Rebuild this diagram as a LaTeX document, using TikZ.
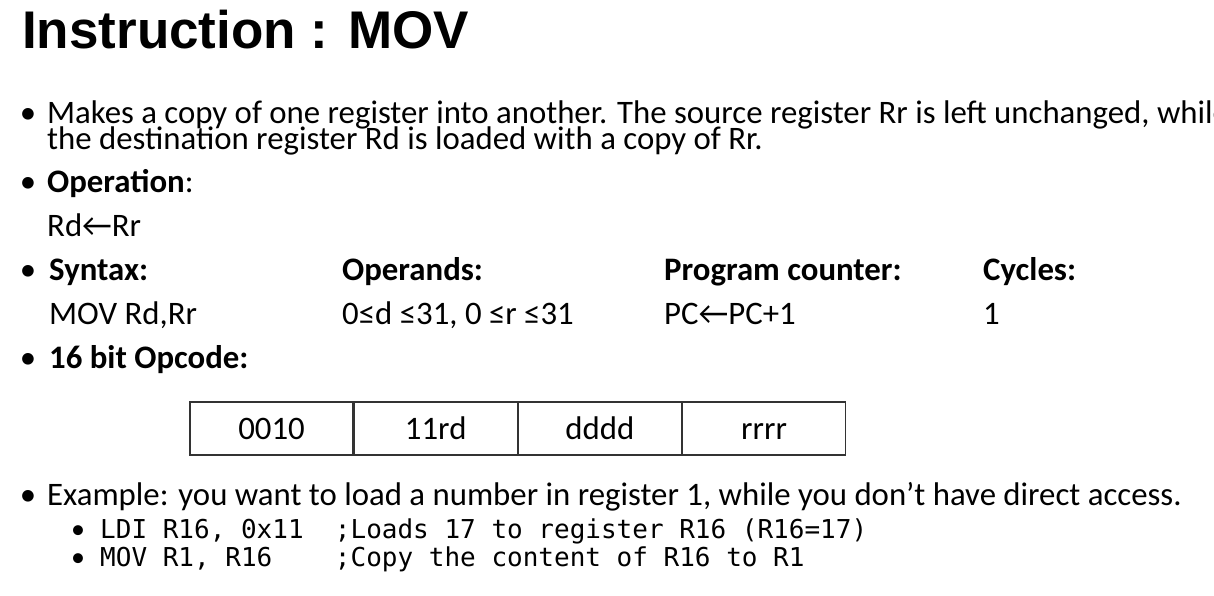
\documentclass[tikz,border=0pt]{standalone}
\usepackage{fontspec}
\setmainfont{Carlito}
\newfontfamily\ttlfont{Liberation Sans}
\newfontfamily\codefont{DejaVu Sans Mono}
\usetikzlibrary{positioning}
\begin{document}
\begin{tikzpicture}[x=1pt, y=-1pt,
  txt/.style={anchor=base west, inner sep=0pt, font=\fontsize{32.8}{33}\selectfont},
  bold/.style={txt, font=\fontsize{32.8}{33}\selectfont\bfseries},
  bul/.style={anchor=base, inner sep=0pt, font=\fontsize{32.8}{33}\selectfont},
  subbul/.style={anchor=base, inner sep=0pt, font=\fontsize{28}{28}\selectfont},
  code/.style={anchor=base west, inner sep=0pt, font=\fontsize{26}{26}\codefont},
  cell/.style={draw=black!80, line width=1.2pt, minimum width=163, minimum height=53,
    inner sep=0pt, text height=24pt, text depth=3pt, font=\fontsize{32.8}{33}\selectfont}]
\useasboundingbox[fill=white] (0,0) rectangle (1214,596);
\node[anchor=base west, inner sep=0pt, font=\fontsize{53}{53}\ttlfont\bfseries] (ttl) at (22,49) {Instruction : MOV};
% description
\node[bul] (b0) at (28,124) {•};
\node[txt] (desc0) at (47,124) {Makes a copy of one register into another. The source register Rr is left unchanged, while};
\node[txt] (desc1) at (47,150) {the destination register Rd is loaded with a copy of Rr.};
% operation
\node[bul] (b1) at (28,193) {•};
\node[txt] (op) at (47,193) {\textbf{Operation}:};
\node[txt] (opval) at (47,236) {Rd←Rr};
% syntax line
\node[bul] (b2) at (28,280) {•};
\node[bold] (syn) at (49,280) {Syntax:};
\node[bold] (opd) at (342,280) {Operands:};
\node[bold] (pc) at (664,280) {Program counter:};
\node[bold] (cyc) at (983,280) {Cycles:};
\node[txt] (synval) at (49,324) {MOV Rd,Rr};
\node[txt] (opdval) at (342,324) {0≤d ≤31, 0 ≤r ≤31};
\node[txt] (pcval) at (664,324) {PC←PC+1};
\node[txt] (cycval) at (983,324) {1};
% opcode
\node[bul] (b3) at (28,368) {•};
\node[bold] (opc) at (49,368) {16 bit Opcode:};
\node[cell] (c0) at (271.5,428.5) {0010};
\node[cell, right=0pt of c0] (c1) {11rd};
\node[cell, right=0pt of c1] (c2) {dddd};
\node[cell, right=0pt of c2] (c3) {rrrr};
% example
\node[bul] (b4) at (28,505) {•};
\node[txt] (ex) at (47,505) {Example: you want to load a number in register 1, while you don’t have direct access.};
\node[subbul] (s0) at (78,538) {•};
\node[code] (ldi) at (100,538) {LDI R16, 0x11\ \ ;Loads 17 to register R16 (R16=17)};
\node[subbul] (s1) at (78,566) {•};
\node[code] (mov) at (100,566) {MOV R1, R16\ \ \ \ ;Copy the content of R16 to R1};
\end{tikzpicture}
\end{document}
